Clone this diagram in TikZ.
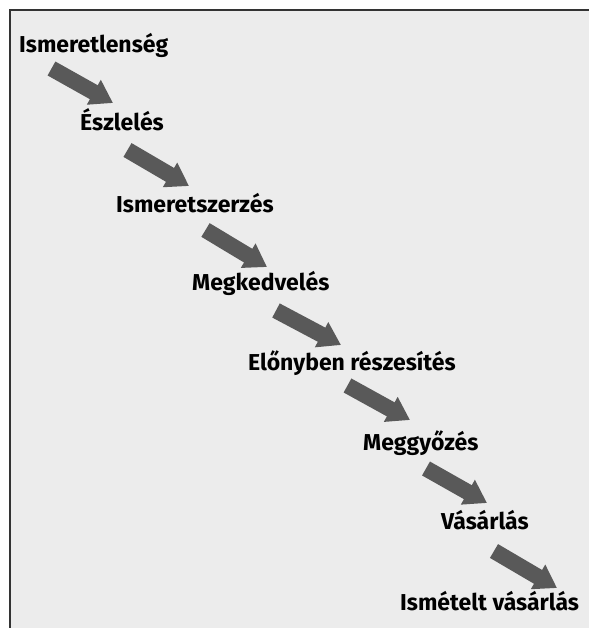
\documentclass[tikz,border=0pt]{standalone}
\usepackage{fontspec}
\setmainfont{Fira Sans}
\usetikzlibrary{arrows.meta,positioning}

\definecolor{panelgray}{HTML}{ECECEC}
\definecolor{arrowgray}{HTML}{595959}
\definecolor{framegray}{HTML}{333333}

\tikzset{
	stage/.style={anchor=base west, inner sep=0pt, font=\bfseries\fontsize{23}{27}\selectfont},
	stagearrow/.style={draw=arrowgray, line width=16pt, -{Triangle[width=27pt,length=22pt]}},
}

\begin{document}
\begin{tikzpicture}[x=1pt, y=-1pt]
	\fill[white] (0,0) rectangle (589,628);
	\useasboundingbox (0,0) rectangle (589,628);
	\fill[panelgray] (10,10) rectangle (589,628);
	\draw[framegray, line width=1.4pt] (10,628) -- (10,10) -- (589,10);

	\node[stage] (s1) at (19,53) {Ismeretlenség};
	\node[stage] (s2) at (80,131) {Észlelés};
	\node[stage] (s3) at (116,212) {Ismeretszerzés};
	\node[stage] (s4) at (192,290) {Megkedvelés};
	\node[stage] (s5) at (248,370) {Előnyben részesítés};
	\node[stage] (s6) at (363,450) {Meggyőzés};
	\node[stage] (s7) at (441,529) {Vásárlás};
	\node[stage] (s8) at (400,610) {Ismételt vásárlás};

	% arrow ends
	\coordinate (t1) at (51.5,68.5);  \coordinate (h1) at (113,103);
	\coordinate (t2) at (127.5,150);  \coordinate (h2) at (189,186);
	\coordinate (t3) at (205.5,230);  \coordinate (h3) at (267,267);
	\coordinate (t4) at (276,310.5);  \coordinate (h4) at (341,345);
	\coordinate (t5) at (347.5,385.5); \coordinate (h5) at (410,420);
	\coordinate (t6) at (426,468.5);  \coordinate (h6) at (487,503);
	\coordinate (t7) at (494,551);    \coordinate (h7) at (557,588);

	\draw[stagearrow] (t1) -- (h1);
	\draw[stagearrow] (t2) -- (h2);
	\draw[stagearrow] (t3) -- (h3);
	\draw[stagearrow] (t4) -- (h4);
	\draw[stagearrow] (t5) -- (h5);
	\draw[stagearrow] (t6) -- (h6);
	\draw[stagearrow] (t7) -- (h7);
\end{tikzpicture}
\end{document}
